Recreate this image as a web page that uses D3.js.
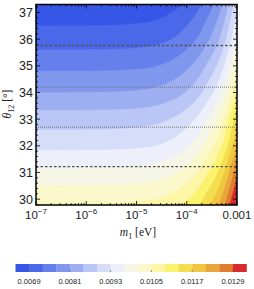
<!DOCTYPE html>
<html>
<head>
<meta charset="utf-8">
<script src="https://cdn.jsdelivr.net/npm/d3@7"></script>
<style>
  body { margin: 0; background: #fff; }
  svg { display: block; }
</style>
</head>
<body>
<div id="chart"></div>
<script>
// values
var thetaRows = [29, 30, 31, 32, 33, 34, 35, 36, 37, 38];   // theta12 [deg]
var m1Cols = [0, 2e-5, 5e-5, 1e-4, 2.5e-4, 5e-4, 7.5e-4, 1e-3]; // m1 [eV]
var massGrid = [
  [0.01100, 0.01108, 0.01124, 0.01148, 0.01207, 0.01279, 0.01350, 0.01409],
  [0.01040, 0.01048, 0.01063, 0.01087, 0.01145, 0.01216, 0.01286, 0.01344],
  [0.00980, 0.00988, 0.01003, 0.01026, 0.01084, 0.01153, 0.01222, 0.01279],
  [0.00920, 0.00928, 0.00942, 0.00965, 0.01021, 0.01088, 0.01155, 0.01211],
  [0.00870, 0.00878, 0.00892, 0.00914, 0.00969, 0.01035, 0.01101, 0.01156],
  [0.00810, 0.00818, 0.00832, 0.00853, 0.00907, 0.00972, 0.01037, 0.01091],
  [0.00760, 0.00767, 0.00781, 0.00802, 0.00854, 0.00916, 0.00978, 0.01030],
  [0.00710, 0.00717, 0.00730, 0.00751, 0.00802, 0.00863, 0.00924, 0.00975],
  [0.00670, 0.00677, 0.00690, 0.00710, 0.00760, 0.00820, 0.00880, 0.00930],
  [0.00630, 0.00637, 0.00650, 0.00669, 0.00718, 0.00777, 0.00836, 0.00885]
];

var levels = [0.0065, 0.0069, 0.0073, 0.0077, 0.0081, 0.0085, 0.0089, 0.0093, 0.0097,
              0.0101, 0.0105, 0.0109, 0.0113, 0.0117, 0.0121, 0.0125, 0.0129, 0.0133];
var bandColors = ["#3656e8", "#4a69ea", "#6580ec", "#8097ee", "#9daff1", "#bac6f5",
                  "#d6ddf8", "#edf0fb", "#f6f6e6", "#fbf8cc", "#fcf6a6", "#fbf26e",
                  "#f4dd4e", "#f0c640", "#e9a63a", "#e27d30", "#d82a2e"];
var barTicks = [0.0069, 0.0081, 0.0093, 0.0105, 0.0117, 0.0129];

var xTicks = [1e-7, 1e-6, 1e-5, 1e-4, 1e-3];
var xTickExp = ["\u22127", "\u22126", "\u22125", "\u22124", null];
var yTicks = [30, 31, 32, 33, 34, 35, 36, 37];
var dashedLines = [31.22, 35.76];
var dottedLines = [32.70, 34.20];

var W = 254, H = 289;
var pL = 36, pR = 237, pT = 4.5, pB = 205;

var svg = d3.select("#chart").append("svg")
  .attr("width", W).attr("height", H);

var x = d3.scaleLog().domain([1e-7, 1e-3]).range([pL, pR]);
var y = d3.scaleLinear().domain([29.78, 37.3]).range([pB, pT]);

// piecewise linear lookup in the read table
function lookup(arr, v) {
  var i = d3.bisectRight(arr, v) - 1;
  i = Math.max(0, Math.min(arr.length - 2, i));
  return [i, (v - arr[i]) / (arr[i + 1] - arr[i])];
}
function massAt(m1, th) {
  var a = lookup(thetaRows, th), b = lookup(m1Cols, m1);
  var r0 = massGrid[a[0]], r1 = massGrid[a[0] + 1];
  var v0 = r0[b[0]] + (r0[b[0] + 1] - r0[b[0]]) * b[1];
  var v1 = r1[b[0]] + (r1[b[0] + 1] - r1[b[0]]) * b[1];
  return v0 + (v1 - v0) * a[1];
}

// sample the table on the pixel grid for the contours
var nx = Math.round(pR - pL), ny = Math.round(pB - pT);
var values = new Array(nx * ny);
for (var j = 0; j < ny; j++) {
  var th = y.invert(pT + (j + 0.5) * (pB - pT) / ny);
  for (var i = 0; i < nx; i++) {
    var m = x.invert(pL + (i + 0.5) * (pR - pL) / nx);
    values[j * nx + i] = massAt(m, th);
  }
}

svg.append("clipPath").attr("id", "plotclip")
  .append("rect").attr("x", pL).attr("y", pT)
  .attr("width", pR - pL).attr("height", pB - pT);

var plot = svg.append("g").attr("clip-path", "url(#plotclip)");

plot.append("rect")
  .attr("x", pL).attr("y", pT)
  .attr("width", pR - pL).attr("height", pB - pT)
  .attr("fill", bandColors[0]);

var contours = d3.contours().size([nx, ny]).smooth(true)
  .thresholds(levels.slice(1, 17))(values);

var sx = (pR - pL) / nx, sy = (pB - pT) / ny;
var path = d3.geoPath(d3.geoTransform({
  point: function(px, py) { this.stream.point(pL + px * sx, pT + py * sy); }
}));

plot.selectAll("path.band")
  .data(contours)
  .enter().append("path")
  .attr("class", "band")
  .attr("d", path)
  .attr("fill", function(d, k) { return bandColors[k + 1]; })
  .attr("stroke", function(d, k) { return bandColors[k + 1]; })
  .attr("stroke-width", 0.4);

// reference lines
plot.selectAll("line.dash")
  .data(dashedLines)
  .enter().append("line")
  .attr("x1", pL).attr("x2", pR)
  .attr("y1", function(d) { return y(d); })
  .attr("y2", function(d) { return y(d); })
  .attr("stroke", "#555").attr("stroke-width", 1.4)
  .attr("stroke-dasharray", "2.5,2");

plot.selectAll("line.dot")
  .data(dottedLines)
  .enter().append("line")
  .attr("x1", pL).attr("x2", pR)
  .attr("y1", function(d) { return y(d); })
  .attr("y2", function(d) { return y(d); })
  .attr("stroke", "#777").attr("stroke-width", 1)
  .attr("stroke-dasharray", "1,1");

// frame ticks, inward on all four sides
var ticksG = svg.append("g").attr("stroke", "#000");
var xMinor = [];
for (var e = -7; e < -3; e++) {
  for (var k = 2; k < 10; k++) xMinor.push(k * Math.pow(10, e));
}
var yMinor = d3.range(29.8, 37.3, 0.2).filter(function(v) {
  return Math.abs(v - Math.round(v)) > 0.01;
});

function xTickLines(data, len) {
  data.forEach(function(d) {
    ticksG.append("line").attr("x1", x(d)).attr("x2", x(d))
      .attr("y1", pB).attr("y2", pB - len).attr("stroke-width", 0.8);
    ticksG.append("line").attr("x1", x(d)).attr("x2", x(d))
      .attr("y1", pT).attr("y2", pT + len).attr("stroke-width", 0.8);
  });
}
function yTickLines(data, len) {
  data.forEach(function(d) {
    ticksG.append("line").attr("y1", y(d)).attr("y2", y(d))
      .attr("x1", pL).attr("x2", pL + len).attr("stroke-width", 0.8);
    ticksG.append("line").attr("y1", y(d)).attr("y2", y(d))
      .attr("x1", pR).attr("x2", pR - len).attr("stroke-width", 0.8);
  });
}
xTickLines(xTicks, 4);
xTickLines(xMinor, 2);
yTickLines(yTicks, 4);
yTickLines(yMinor, 2);

svg.append("rect")
  .attr("x", pL).attr("y", pT)
  .attr("width", pR - pL).attr("height", pB - pT)
  .attr("fill", "none").attr("stroke", "#000").attr("stroke-width", 1.5);

// tick labels
svg.selectAll("text.ytick")
  .data(yTicks)
  .enter().append("text")
  .attr("class", "ytick")
  .attr("x", 33).attr("y", function(d) { return y(d) + 4.5; })
  .attr("text-anchor", "end")
  .attr("font-family", "Liberation Sans, Arial, sans-serif")
  .attr("font-size", 12.5)
  .attr("fill", "#222")
  .text(function(d) { return d; });

var xl = svg.selectAll("text.xtick")
  .data(xTicks)
  .enter().append("text")
  .attr("class", "xtick")
  .attr("x", function(d) { return x(d); })
  .attr("y", 219)
  .attr("text-anchor", "middle")
  .attr("font-family", "Liberation Sans, Arial, sans-serif")
  .attr("font-size", 11.5)
  .attr("fill", "#222");
xl.each(function(d, i) {
  var t = d3.select(this);
  if (xTickExp[i] === null) {
    t.text("0.001");
  } else {
    t.append("tspan").text("10");
    t.append("tspan").attr("dy", -5).attr("font-size", 8).text(xTickExp[i]);
  }
});

// axis titles
var xt = svg.append("text")
  .attr("x", 138).attr("y", 236)
  .attr("text-anchor", "middle")
  .attr("font-family", "Liberation Serif, Times New Roman, serif")
  .attr("font-size", 11.5)
  .attr("fill", "#222");
xt.append("tspan").attr("font-style", "italic").text("m");
xt.append("tspan").attr("dy", 2.5).attr("font-size", 8).text("1");
xt.append("tspan").attr("dy", -2.5).text(" [eV]");

var yt = svg.append("text")
  .attr("transform", "translate(11,104) rotate(-90)")
  .attr("text-anchor", "middle")
  .attr("font-family", "Liberation Serif, Times New Roman, serif")
  .attr("font-size", 11.5)
  .attr("fill", "#222");
yt.append("tspan").attr("font-style", "italic").text("\u03b8");
yt.append("tspan").attr("dy", 2.5).attr("font-size", 8).text("12");
yt.append("tspan").attr("dy", -2.5).text(" [\u00b0]");

// colour bar
var barX = d3.scaleLinear().domain([levels[0], levels[17]]).range([15.5, 246.5]);
var barTop = 264, barH = 8;
svg.selectAll("rect.seg")
  .data(bandColors)
  .enter().append("rect")
  .attr("class", "seg")
  .attr("x", function(d, k) { return barX(levels[k]); })
  .attr("width", function(d, k) { return barX(levels[k + 1]) - barX(levels[k]) + 0.3; })
  .attr("y", barTop).attr("height", barH)
  .attr("fill", function(d) { return d; });

svg.selectAll("line.btick")
  .data(barTicks)
  .enter().append("line")
  .attr("x1", function(d) { return barX(d); })
  .attr("x2", function(d) { return barX(d); })
  .attr("y1", barTop + barH).attr("y2", barTop + barH - 2)
  .attr("stroke", "#555").attr("stroke-width", 0.6);

svg.selectAll("text.btick")
  .data(barTicks)
  .enter().append("text")
  .attr("x", function(d) { return barX(d); })
  .attr("y", 284)
  .attr("text-anchor", "middle")
  .attr("font-family", "Liberation Sans, Arial, sans-serif")
  .attr("font-size", 7.5)
  .attr("fill", "#222")
  .text(function(d) { return d.toFixed(4); });
</script>
</body>
</html>
